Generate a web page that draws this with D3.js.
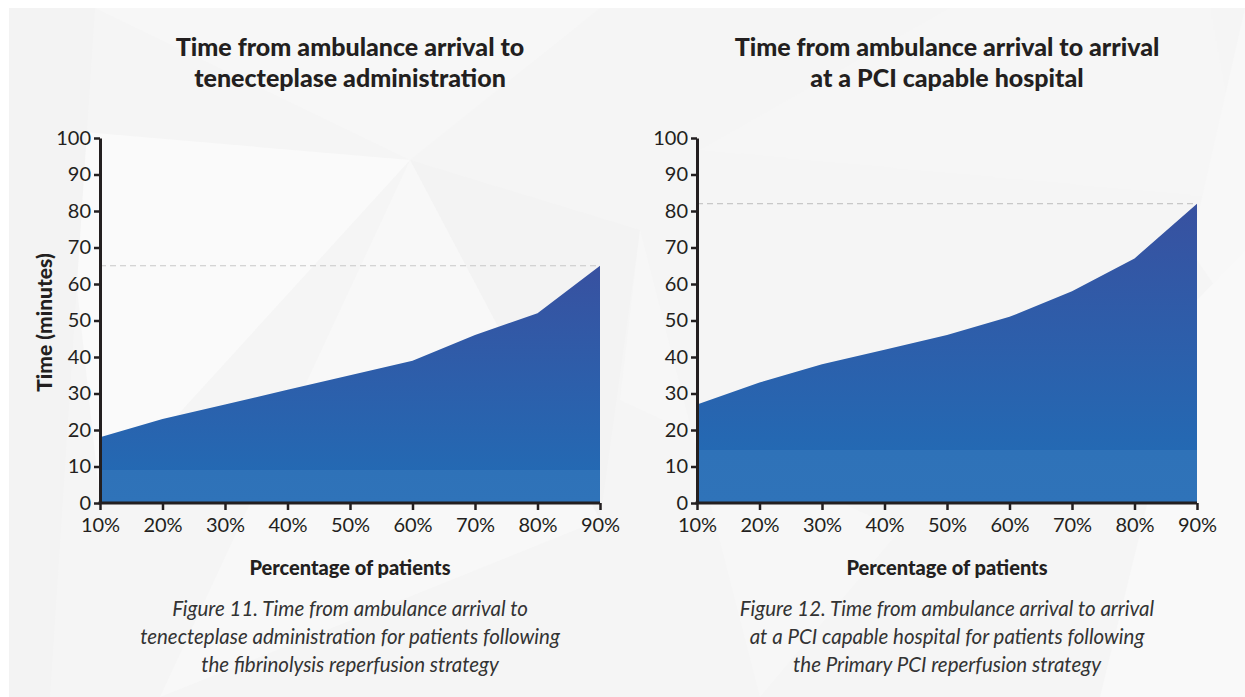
<!DOCTYPE html>
<html>
<head>
<meta charset="utf-8">
<script src="https://cdn.jsdelivr.net/npm/d3@7"></script>
<style>
  body { margin: 0; background: #fff; }
  text { font-family: Lato, "Open Sans", sans-serif; fill: #231f20; }
</style>
</head>
<body>
<div id="chart"></div>
<script>
  // percentiles along the x axis
  const percentiles = [10, 20, 30, 40, 50, 60, 70, 80, 90];
  const yTicks = [0, 10, 20, 30, 40, 50, 60, 70, 80, 90, 100];

  // figure 11: ambulance arrival -> tenecteplase
  const fibrinolysisMinutes = [18, 23, 27, 31, 35, 39, 46, 52, 65];
  // figure 12: ambulance arrival -> PCI capable hospital
  const pciMinutes = [27, 33, 38, 42, 46, 51, 58, 67, 82];

  const titles = [
    ["Time from ambulance arrival to", "tenecteplase administration"],
    ["Time from ambulance arrival to arrival", "at a PCI capable hospital"]
  ];
  const captions = [
    ["Figure 11. Time from ambulance arrival to",
     "tenecteplase administration for patients following",
     "the fibrinolysis reperfusion strategy"],
    ["Figure 12. Time from ambulance arrival to arrival",
     "at a PCI capable hospital for patients following",
     "the Primary PCI reperfusion strategy"]
  ];

  const width = 1245, height = 697;

  const svg = d3.select("#chart").append("svg")
    .attr("width", width)
    .attr("height", height);

  // light grey faceted backdrop
  svg.append("rect")
    .attr("x", 9).attr("y", 8)
    .attr("width", width - 9).attr("height", height - 8)
    .attr("fill", "#f5f5f5");

  let facets = [
    {pts: [[95, 8], [410, 160], [600, 8]], fill: "#f7f7f7"},
    {pts: [[60, 130], [410, 160], [100, 500]], fill: "#fafafa"},
    {pts: [[410, 160], [640, 230], [600, 520]], fill: "#f3f3f3"},
    {pts: [[410, 160], [160, 697], [600, 520]], fill: "#f8f8f8"},
    {pts: [[9, 8], [95, 8], [50, 697], [9, 697]], fill: "#f3f3f3"},
    {pts: [[700, 150], [950, 8], [1210, 8], [1245, 200]], fill: "#f6f6f6"},
    {pts: [[1245, 8], [1245, 330], [1190, 250]], fill: "#f8f8f8"},
    {pts: [[640, 230], [760, 697], [900, 530], [620, 400]], fill: "#f7f7f7"},
    {pts: [[1197, 300], [1245, 250], [1245, 697], [1100, 697]], fill: "#f9f9f9"}
  ];
  svg.append("g").selectAll("polygon")
    .data(facets)
    .join("polygon")
    .attr("points", d => d.pts.map(p => p.join(",")).join(" "))
    .attr("fill", d => d.fill);

  const charts = [
    {values: fibrinolysisMinutes, left: 100, band: 9, yTitle: true},
    {values: pciMinutes, left: 697, band: 14.6, yTitle: false}
  ];

  const plotTop = 138, plotBottom = 503, plotWidth = 500;

  const defs = svg.append("defs");

  charts.forEach((c, i) => {
    let x = d3.scaleLinear().domain([10, 90]).range([c.left, c.left + plotWidth]);
    let y = d3.scaleLinear().domain([0, 100]).range([plotBottom, plotTop]);
    let cx = c.left + plotWidth / 2;
    let maxV = d3.max(c.values);

    // gradient: navy at the top fading to mid blue, with a lighter band near the floor
    let gid = "grad" + i;
    let bandOff = (y(c.band) - y(maxV)) / (y(0) - y(maxV));
    let g = defs.append("linearGradient")
      .attr("id", gid)
      .attr("gradientUnits", "userSpaceOnUse")
      .attr("x1", 0).attr("x2", 0)
      .attr("y1", y(maxV)).attr("y2", y(0));
    g.append("stop").attr("offset", 0).attr("stop-color", "#3851a0");
    g.append("stop").attr("offset", bandOff).attr("stop-color", "#2469b3");
    g.append("stop").attr("offset", bandOff).attr("stop-color", "#2f72b8");
    g.append("stop").attr("offset", 1).attr("stop-color", "#2f73b9");

    let root = svg.append("g");

    // titles
    root.append("text")
      .attr("text-anchor", "middle")
      .attr("font-weight", 900)
      .attr("font-size", 25)
      .selectAll("tspan")
      .data(titles[i])
      .join("tspan")
      .attr("x", cx)
      .attr("y", (d, k) => 56 + k * 31)
      .text(d => d);

    let area = d3.area()
      .x((d, k) => x(percentiles[k]))
      .y0(y(0))
      .y1(d => y(d));

    // reference line at the 90th percentile value
    root.append("line")
      .attr("x1", x(10)).attr("x2", x(90))
      .attr("y1", y(maxV)).attr("y2", y(maxV))
      .attr("stroke", "#c8c8c8")
      .attr("stroke-width", 1.2)
      .attr("stroke-dasharray", "6,4");

    root.append("path")
      .datum(c.values)
      .attr("d", area)
      .attr("fill", `url(#${gid})`);

    let yAxis = root.append("g")
      .attr("transform", `translate(${x(10)},0)`)
      .call(d3.axisLeft(y).tickValues(yTicks).tickSize(6).tickSizeOuter(0).tickPadding(3));
    let xAxis = root.append("g")
      .attr("transform", `translate(0,${y(0)})`)
      .call(d3.axisBottom(x).tickValues(percentiles).tickSize(7).tickSizeOuter(0).tickPadding(8)
        .tickFormat(d => d + "%"));

    [yAxis, xAxis].forEach(a => {
      a.select(".domain").attr("stroke", "#231f20").attr("stroke-width", 3);
      a.selectAll(".tick line").attr("stroke", "#231f20").attr("stroke-width", 2.5);
      a.selectAll(".tick text")
        .attr("font-size", 20)
        .attr("font-family", "Lato, 'Open Sans', sans-serif")
        .attr("fill", "#231f20");
    });
    xAxis.select(".domain").attr("d", `M${x(10) - 1.5},0H${x(90)}`);

    root.append("text")
      .attr("x", cx).attr("y", 575)
      .attr("text-anchor", "middle")
      .attr("font-weight", 900)
      .attr("font-size", 20)
      .text("Percentage of patients");

    if (c.yTitle) {
      root.append("text")
        .attr("transform", `translate(52,${(plotTop + plotBottom) / 2 + 2}) rotate(-90)`)
        .attr("text-anchor", "middle")
        .attr("font-weight", 900)
        .attr("font-size", 21)
        .text("Time (minutes)");
    }

    root.append("text")
      .attr("text-anchor", "middle")
      .attr("font-style", "italic")
      .attr("font-size", 20.5)
      .selectAll("tspan")
      .data(captions[i])
      .join("tspan")
      .attr("x", cx)
      .attr("y", (d, k) => 616 + k * 28)
      .style("fill", "#333")
      .text(d => d);
  });
</script>
</body>
</html>
